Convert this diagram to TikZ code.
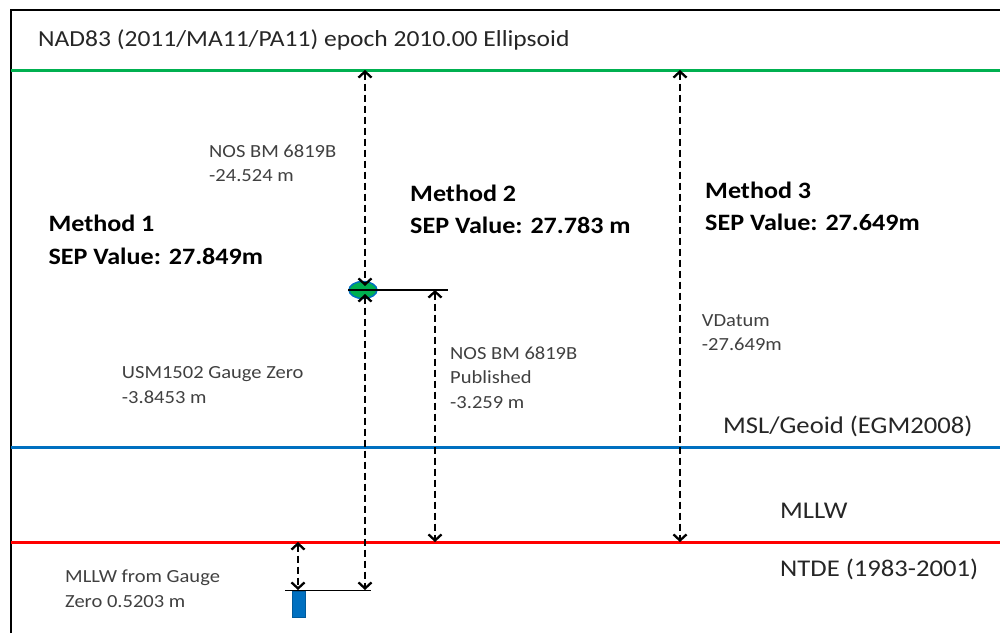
\documentclass[tikz,border=0pt]{standalone}
\usepackage{fontspec}
\setmainfont{Carlito}[FakeStretch=1.11]
\usetikzlibrary{arrows.meta,shapes.geometric}
\definecolor{datumgreen}{RGB}{0,176,80}
\definecolor{datumblue}{RGB}{0,112,192}
\definecolor{datumred}{RGB}{255,0,0}
\definecolor{notegray}{RGB}{64,64,64}

\begin{document}
\begin{tikzpicture}
                [x=1pt,y=-1pt,
                 note/.style={anchor=base west,inner sep=0pt,align=left,text=notegray,font=\fontsize{18.5}{24.5}\selectfont},
                 method/.style={anchor=base west,inner sep=0pt,align=left,font=\fontsize{23.5}{32.3}\selectfont\bfseries},
                 level/.style={anchor=base west,inner sep=0pt,text=black!85,font=\fontsize{24}{29}\selectfont},
                 datum/.style={line width=3pt},
                 sep/.style={line width=2.3pt,dash pattern=on 7pt off 4pt,
                   {Straight Barb[length=6pt,width=13pt]}-{Straight Barb[length=6pt,width=13pt]}}]

                \useasboundingbox (0,0) rectangle (1000,633);

                % frame
                \draw[line width=2pt] (11,633) -- (11,10) -- (1000,10);

                % datum lines
                \draw[datum,datumgreen] (11,70) -- (1000,70);
                \draw[datum,datumblue] (11,447) -- (1000,447);
                \draw[datum,datumred] (11,542) -- (1000,542);

                \coordinate (ell1) at (365,70);
                \coordinate (ell3) at (680,70);
                \coordinate (low0) at (298,542);
                \coordinate (low2) at (435,542);
                \coordinate (low3) at (680,542);

                % bench mark and gauge
                \node[ellipse,draw=datumblue,fill=datumgreen,line width=1.5pt,minimum width=28pt,minimum height=17pt,inner sep=0pt] (bm) at (363,290) {};
                \coordinate (bmtop) at (365,286);
                \coordinate (bmbot) at (365,294);
                \coordinate (bmend) at (448,290);
                \coordinate (bmsep) at (435,290);
                \draw[line width=1.3pt] (bm.west) -- (bmend);

                \coordinate (gaugeL) at (285,590.5);
                \coordinate (gaugeR) at (371,590.5);
                \coordinate (gauge0) at (298,590);
                \coordinate (gauge2) at (365,590);
                \draw[line width=1.3pt] (gaugeL) -- (gaugeR);
                \filldraw[fill=datumblue,draw=datumblue!80!black,line width=0.8pt] (292,591.5) rectangle (305,617) node[midway] (gauge) {};

                % separations
                \draw[sep] (ell1) -- (bmtop);
                \draw[sep] (bmbot) -- (gauge2);
                \draw[sep] (bmsep) -- (low2);
                \draw[sep] (ell3) -- (low3);
                \draw[sep] (low0) -- (gauge0);

                % labels (base = last line)
                \node[level,font=\fontsize{23}{28}\selectfont] (nad) at (38,46.7) {NAD83 (2011/MA11/PA11) epoch 2010.00 Ellipsoid};
                \node[level] (msl) at (723,433.3) {MSL/Geoid (EGM2008)};
                \node[level] (mllw) at (780,518.3) {MLLW};
                \node[level] (ntde) at (780,576.7) {NTDE (1983-2001)};

                \node[method] (m1) at (48.3,264) {Method 1\\SEP Value: 27.849m};
                \node[method,font=\fontsize{23.5}{31.6}\selectfont\bfseries] (m2) at (410,233.3) {Method 2\\SEP Value: 27.783 m};
                \node[method,font=\fontsize{23.5}{31.7}\selectfont\bfseries] (m3) at (705,230) {Method 3\\SEP Value: 27.649m};

                \node[note] (nosbm) at (209,181.7) {NOS BM 6819B\\-24.524 m};
                \node[note] (usm) at (121.7,403.3) {USM1502 Gauge Zero\\-3.8453 m};
                \node[note] (pub) at (450,408.3) {NOS BM 6819B\\Published\\-3.259 m};
                \node[note] (vdatum) at (701.7,350.5) {VDatum\\-27.649m};
                \node[note] (fromgauge) at (65,607.3) {MLLW from Gauge\\Zero 0.5203 m};

            \end{tikzpicture}
\end{document}
